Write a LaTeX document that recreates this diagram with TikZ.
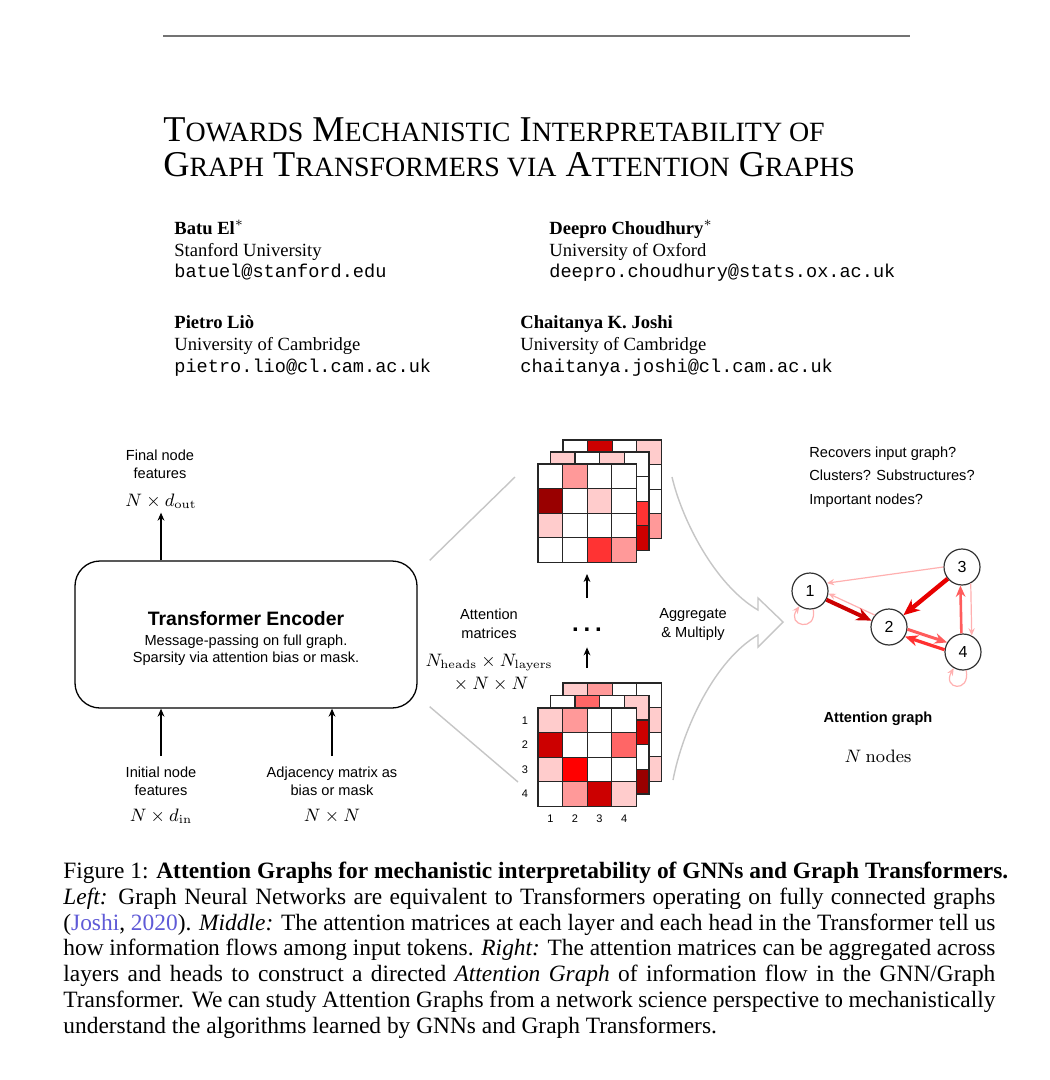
\documentclass[tikz,border=0pt]{standalone}
\usepackage{amsmath}
\usepackage[no-math]{fontspec}
\setmainfont{Liberation Serif}
\setsansfont{Liberation Sans}
\setmonofont{Liberation Mono}
\usepackage{xcolor}
\usetikzlibrary{arrows.meta, positioning, calc}
\definecolor{heat0}{HTML}{FFFFFF}
\definecolor{heat1}{HTML}{FFCCCC}
\definecolor{heat2}{HTML}{FF9999}
\definecolor{heat3}{HTML}{FF6666}
\definecolor{heat4}{HTML}{FF3333}
\definecolor{heat5}{HTML}{FF0000}
\definecolor{heat6}{HTML}{CC0000}
\definecolor{heat7}{HTML}{990000}
\definecolor{edgepink}{HTML}{FFB0B0}
\definecolor{edgesalmon}{HTML}{FF5C5C}
\definecolor{edgecoral}{HTML}{FF3030}
\definecolor{edgered}{HTML}{E80000}
\definecolor{citeblue}{RGB}{95,90,215}
\newcommand{\setfs}[2]{\fontsize{#1}{#2}\selectfont}
\newcommand{\fakesc}[1]{{\setfs{13.95}{17.5}#1}}
\newcommand{\capline}[1]{\makebox[466pt][s]{#1}}
% one 4x4 attention matrix, top left corner at (#1,#2)
\newcommand{\attmat}[3]{%
  \foreach \v [count=\k from 0] in {#3} {%
    \pgfmathtruncatemacro{\mr}{\k/4}%
    \pgfmathtruncatemacro{\mc}{mod(\k,4)}%
    \draw[cell, fill=heat\v] ({#1+\mc*24.6},{#2+\mr*24.6}) rectangle ++(24.6,24.6);%
  }}

\begin{document}
\begin{tikzpicture}[
    x=0.5pt, y=-0.5pt,
    lbl/.style={font=\sffamily\setfs{7.3}{9}, align=center, inner sep=1pt},
    mth/.style={font=\setfs{8.75}{11.5}, align=center, inner sep=2pt},
    idx/.style={font=\sffamily\setfs{5.5}{5.5}, inner sep=0pt},
    auth/.style={anchor=base west, align=left, inner sep=0pt, font=\setfs{9.3}{10.9}},
    arr/.style={-{Stealth[length=4pt, width=3.4pt]}, line width=0.6pt},
    guide/.style={draw=gray!45, line width=0.7pt},
    encbox/.style={draw, rounded corners=12.5pt, line width=0.65pt, minimum width=171pt,
                   minimum height=73.5pt, align=center, font=\sffamily\setfs{7.3}{8.5}},
    gnode/.style={circle, draw=black!80, fill=white, line width=0.6pt, minimum size=18pt,
                  inner sep=0pt, font=\sffamily\setfs{8}{8}},
    att/.style 2 args={draw=#1, line width=#2, -{Stealth[length=2pt 2.8, width'=0pt 0.85]}},
    cell/.style={draw=black!85, line width=0.65pt},
]
\fill[white] (0,0) rectangle (1049,1080);
\useasboundingbox (0,0) rectangle (1049,1080);
\draw[black!55, line width=0.55pt] (163,36) -- (910,36);

% title and authors
\node[anchor=base west, inner sep=0pt, font=\setfs{18.15}{17.5}] (ttlA) at (163,142)
    {T\fakesc{OWARDS} M\fakesc{ECHANISTIC} I\fakesc{NTERPRETABILITY OF}};
\node[anchor=base west, inner sep=0pt, font=\setfs{18.15}{17.5}] (ttlB) at (163,177)
    {G\fakesc{RAPH} T\fakesc{RANSFORMERS VIA} A\fakesc{TTENTION} G\fakesc{RAPHS}};
\node[auth] (batu) at (174,278) {\textbf{Batu El}$^{*}$\\Stanford University\\\texttt{batuel@stanford.edu}};
\node[auth] (deepro) at (549,278) {\textbf{Deepro Choudhury}$^{*}$\\University of Oxford\\\texttt{deepro.choudhury@stats.ox.ac.uk}};
\node[auth] (pietro) at (174,372) {\textbf{Pietro Liò}\\University of Cambridge\\\texttt{pietro.lio@cl.cam.ac.uk}};
\node[auth] (chait) at (520,372) {\textbf{Chaitanya K. Joshi}\\University of Cambridge\\\texttt{chaitanya.joshi@cl.cam.ac.uk}};

% left: encoder
\node[encbox] (enc) at (246,634.5) {\rule{0pt}{10.6pt}{\bfseries\setfs{9.7}{11}Transformer Encoder}\\[1.5pt]
    Message-passing on full graph.\\Sparsity via attention bias or mask.};
\node[lbl] (fin) at (160,464) {Final node\\features};
\node[mth] (dout) at (161,501) {$N\times d_{\mathrm{out}}$};
\node[lbl] (inl) at (161,781) {Initial node\\features};
\node[mth] (din) at (161,816) {$N\times d_{\mathrm{in}}$};
\node[lbl] (adj) at (332,781) {Adjacency matrix as\\bias or mask};
\node[mth] (adjn) at (332,816) {$N\times N$};
\draw[arr] (enc.north -| dout) -- (dout.south);
\draw[arr, shorten <=4pt] (inl.north) -- (inl.north |- enc.south);
\draw[arr, shorten <=4pt] (adj.north) -- (adj.north |- enc.south);

% middle: attention matrices
\attmat{563}{440}{0,6,0,1, 0,0,0,0, 0,0,0,0, 0,0,0,2}
\attmat{550.5}{452}{1,0,1,0, 0,0,0,0, 0,0,0,4, 0,0,0,6}
\attmat{538}{464}{0,2,0,0, 7,0,1,0, 1,0,0,0, 0,0,4,2}
\attmat{563}{683}{1,2,0,0, 0,0,0,1, 0,0,0,0, 0,0,0,1}
\attmat{550.5}{695.5}{0,3,0,1, 0,0,0,6, 0,0,0,0, 0,0,0,7}
\attmat{538}{708}{1,2,0,0, 6,0,0,3, 1,5,0,0, 0,2,6,1}
\foreach \n in {1,...,4} {
  \node[idx] (row\n) at (525,{708+(\n-0.5)*24.6}) {\n};
  \node[idx] (col\n) at ({538+(\n-0.5)*24.6},819) {\n};
}
\node[lbl, font=\sffamily\setfs{7.3}{9.5}] (attm) at (489,624) {Attention\\matrices};
\node[mth] (dims) at (489,673) {$N_{\mathrm{heads}}\times N_{\mathrm{layers}}$\\${}\times N\times N$};
\node[anchor=base, inner sep=0pt, font=\sffamily\bfseries\setfs{12}{12}] (dots) at (587,631)
    {.\hspace{2.4pt}.\hspace{2.4pt}.};
\coordinate (topst) at (587,574);
\coordinate (botst) at (587,668);
\draw[arr, shorten <=14.5pt] (dots.north) -- (topst);
\draw[arr, shorten >=8pt] (botst) -- (dots.south);
\coordinate (stTop) at (515,477);
\coordinate (stBot) at (518,782);
\draw[guide] ($(enc.north east)+(12,0)$) -- (stTop);
\draw[guide] ($(enc.south east)+(12,-2)$) -- (stBot);
\draw[guide] (672,477) .. controls (682,520) and (715,585) .. (758,610) -- (758,598)
    -- (783,622) -- (758,647) -- (758,635) .. controls (715,660) and (683,728) .. (673,780);
\node[lbl, font=\sffamily\setfs{7.3}{9.5}] (aggr) at (693,624) {Aggregate\\\& Multiply};

% right: attention graph
\node[lbl, align=left, anchor=west, font=\sffamily\setfs{7.3}{11.75}] (qs) at (807,477)
    {Recovers input graph?\\Clusters? Substructures?\\Important nodes?};
\node[gnode] (g1) at (810,591) {1};
\node[gnode] (g2) at (889,627) {2};
\node[gnode] (g3) at (962,567) {3};
\node[gnode] (g4) at (963,652) {4};
\draw[att={edgepink}{0.6pt}] (g3.180) -- (g1.25);
\draw[att={edgepink}{0.6pt}] (g2.140) -- (g1.-8);
\draw[att={heat6}{2pt}] (g1.-28) -- (g2.160);
\draw[att={edgered}{2.2pt}] (g3) -- (g2);
\draw[att={edgesalmon}{1.5pt}] (g2.-7) -- (g4.149);
\draw[att={edgecoral}{1.6pt}] (g4.173) -- (g2.-31);
\draw[att={edgesalmon}{1.3pt}] (g4.95) -- (g3.-95);
\draw[att={edgepink}{0.6pt}] (g3.-62) -- (g4.62);
\draw[att={edgepink}{0.6pt}] (g1.-80) .. controls +(-80:12pt) and +(-125:12pt) .. (g1.-125);
\draw[att={edgepink}{0.6pt}] (g4.-80) .. controls +(-80:12pt) and +(-120:12pt) .. (g4.-120);
\node[lbl, font=\sffamily\bfseries\setfs{7.3}{9}] (agl) at (878,719) {Attention graph};
\node[mth] (nn) at (878,756) {$N\ \mathrm{nodes}$};

% caption
\node[anchor=base west, align=left, inner sep=0pt, font=\setfs{11.7}{12.85}] (cap) at (63,1033) {%
\mbox{Figure 1: \textbf{Attention Graphs for mechanistic interpretability of GNNs and Graph Transformers.}}\\
\capline{\textit{Left:} Graph Neural Networks are equivalent to Transformers operating on fully connected graphs}\\
\capline{(\textcolor{citeblue}{Joshi}, \textcolor{citeblue}{2020}). \textit{Middle:} The attention matrices at each layer and each head in the Transformer tell us}\\
\capline{how information flows among input tokens. \textit{Right:} The attention matrices can be aggregated across}\\
\capline{layers and heads to construct a directed \textit{Attention Graph} of information flow in the GNN/Graph}\\
\capline{Transformer. We can study Attention Graphs from a network science perspective to mechanistically}\\
understand the algorithms learned by GNNs and Graph Transformers.};
\end{tikzpicture}
\end{document}
